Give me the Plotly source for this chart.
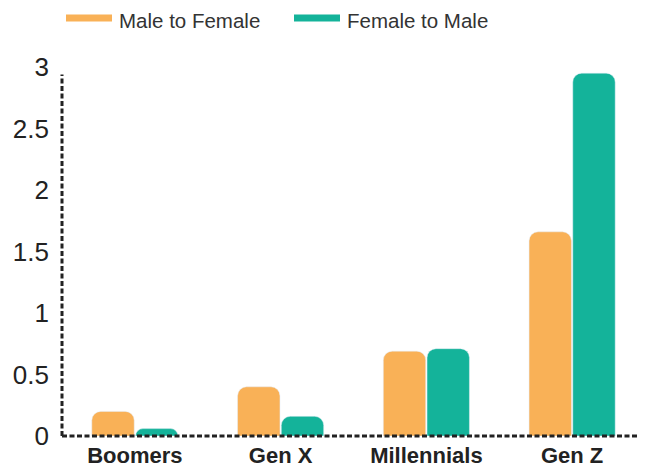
import plotly.graph_objects as go

categories = ["Boomers", "Gen X", "Millennials", "Gen Z"]
male_to_female = [0.20, 0.40, 0.69, 1.66]
female_to_male = [0.06, 0.16, 0.71, 2.95]
tick_vals = [0, 0.5, 1, 1.5, 2, 2.5, 3]
tick_text = ["0", "0.5", "1", "1.5", "2", "2.5", "3"]
series_names = ["Male to Female", "Female to Male"]

orange = "#F9B157"
teal = "#14B39A"
axis_color = "#222222"

# page body has an 8px margin, so the figure is shrunk by that much
OFF = 8
W, H = 645 - OFF, 468 - OFF
L, R, T, B = 62 - OFF, 0, 67 - OFF, 32

fig = go.Figure()
fig.add_trace(go.Bar(x=categories, y=male_to_female, name=series_names[0],
                     marker=dict(color=orange, cornerradius=9)))
fig.add_trace(go.Bar(x=categories, y=female_to_male, name=series_names[1],
                     marker=dict(color=teal, cornerradius=9)))

# dashed axis lines
fig.add_shape(type="line", xref="paper", yref="paper", x0=0, x1=0, y0=0, y1=0.98,
              line=dict(color=axis_color, width=3, dash="5px,2.5px"))
fig.add_shape(type="line", xref="paper", yref="paper", x0=0, x1=1, y0=0, y1=0,
              line=dict(color=axis_color, width=3, dash="5px,2.5px"))

# legend built by hand: thick line + label (positions in page pixels)
def px_x(p):
    return (p - OFF - L) / (W - L - R)

def px_y(p):
    return (H - B - (p - OFF)) / (H - T - B)

for name, col, x0, x1 in [(series_names[0], orange, 66, 112),
                          (series_names[1], teal, 294, 340)]:
    fig.add_shape(type="line", xref="paper", yref="paper",
                  x0=px_x(x0), x1=px_x(x1), y0=px_y(18), y1=px_y(18),
                  line=dict(color=col, width=7))
    fig.add_annotation(text=name, xref="paper", yref="paper",
                       x=px_x(x1 + 6), y=px_y(20), xanchor="left", yanchor="middle",
                       showarrow=False, borderpad=0,
                       font=dict(size=20.5, color="#333333"))

fig.update_layout(
    width=W, height=H,
    margin=dict(l=L, r=R, t=T, b=B),
    plot_bgcolor="white", paper_bgcolor="white",
    font=dict(family="Liberation Sans, Arial, sans-serif", color="#222222"),
    barmode="group", bargap=0.4, bargroupgap=0.03,
    showlegend=False,
)
fig.update_yaxes(range=[0, 3], tickvals=tick_vals, ticktext=tick_text,
                 showgrid=False, zeroline=False, showline=False, automargin=False,
                 tickfont=dict(size=26, color="#222222"), ticklabelstandoff=12)
fig.update_xaxes(showgrid=False, showline=False, zeroline=False, automargin=False,
                 tickfont=dict(size=22, color="#222222", weight="bold"),
                 ticklabelstandoff=4)

fig.write_html("out.html")
